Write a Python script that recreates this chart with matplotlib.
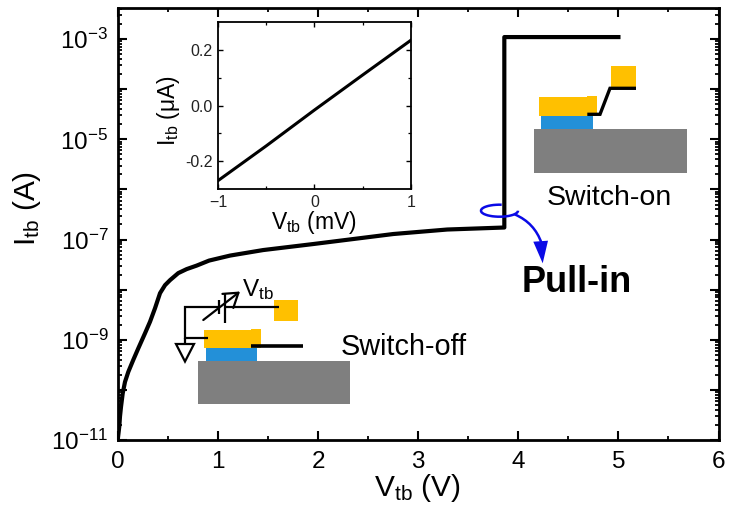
import numpy as np
import matplotlib
matplotlib.use("Agg")
import matplotlib.pyplot as plt
from matplotlib.patches import Rectangle, Polygon, Arc, FancyArrowPatch
from matplotlib.ticker import FixedLocator, NullFormatter

plt.rcParams['font.family'] = ['Liberation Sans', 'DejaVu Sans']
plt.rcParams['mathtext.fontset'] = 'custom'
plt.rcParams['mathtext.rm'] = 'Liberation Sans'
plt.rcParams['mathtext.it'] = 'Liberation Sans'
plt.rcParams['mathtext.bf'] = 'Liberation Sans:bold'
plt.rcParams['mathtext.default'] = 'rm'

# Main curve
v_tb = [0.0, 0.013, 0.02, 0.03, 0.047, 0.07, 0.103, 0.153, 0.203, 0.27, 0.32, 0.37, 0.42, 0.47,
        0.52, 0.602, 0.686, 0.786, 0.91, 1.12, 1.45, 1.95, 2.35, 2.75, 3.29, 3.86, 3.86, 5.0]
log_i_tb = [-10.95, -10.73, -10.53, -10.34, -10.07, -9.84, -9.64, -9.40, -9.17, -8.87, -8.64,
            -8.37, -8.07, -7.91, -7.81, -7.67, -7.59, -7.52, -7.42, -7.32, -7.21, -7.09, -6.99,
            -6.89, -6.80, -6.76, -2.96, -2.96]
# Inset curve
inset_v = [-1.0, -0.5, 0.0, 0.5, 1.0]
inset_i = [-0.27, -0.145, -0.016, 0.11, 0.235]

x_ticks = [0, 1, 2, 3, 4, 5, 6]
y_labelled = [-3, -5, -7, -9, -11]
inset_xticks = [-1, 0, 1]
inset_yticks = [-0.2, 0.0, 0.2]
inset_yticklabels = ['-0.2', '0.0', '0.2']

W, H = 732, 517
fig = plt.figure(figsize=(W / 100, H / 100), dpi=100)

def axes_px(l, t, r, b):
    return fig.add_axes([l / W, 1 - b / H, (r - l) / W, (b - t) / H])

ax = axes_px(118, 7.5, 718.5, 440)
ax.plot(v_tb, 10.0 ** np.array(log_i_tb), color='black', lw=3.0, solid_joinstyle='round', zorder=5)
ax.set_xlim(0, 6)
ax.set_yscale('log')
ax.set_ylim(1e-11, 10 ** -2.37)
ax.set_xticks(x_ticks)
ax.set_xticks(np.arange(0.5, 6, 1), minor=True)
ax.yaxis.set_major_locator(FixedLocator([10.0 ** e for e in range(-11, -2)]))
minor = [m * 10.0 ** e for e in range(-11, -2) for m in range(2, 10)]
ax.yaxis.set_minor_locator(FixedLocator(minor))
ax.yaxis.set_minor_formatter(NullFormatter())
ax.set_yticklabels([('$10^{%d}$' % e if e in y_labelled else '') for e in range(-11, -2)])
for s in ax.spines.values():
    s.set_linewidth(2.0)
ax.tick_params(which='major', direction='in', length=6.5, width=1.5, top=True, right=True,
               labelsize=17.5, pad=7)
ax.tick_params(which='minor', direction='in', length=3.2, width=1.3, top=True, right=True)
ax.tick_params(axis='x', which='major', pad=8)

fig.text(417 / W, 1 - 488 / H, r'$V_{tb}$ (V)', fontsize=21.5, ha='center', va='center')
fig.text(27 / W, 1 - 208 / H, r'$I_{tb}$ (A)', fontsize=21.5, ha='center', va='center', rotation=90)

# Inset
ins = axes_px(218, 22.3, 410.7, 189)
ins.plot(inset_v, inset_i, color='black', lw=2.2)
ins.set_xlim(-1, 1)
ins.set_ylim(-0.3, 0.3)
ins.set_xticks(inset_xticks)
ins.set_xticks([-0.5, 0.5], minor=True)
ins.set_yticks(inset_yticks)
ins.set_yticklabels(inset_yticklabels)
ins.set_yticks([-0.1, 0.1], minor=True)
for s in ins.spines.values():
    s.set_linewidth(1.3)
ins.tick_params(which='major', direction='in', length=3.5, width=1.0, top=True, right=True,
                labelsize=11.5, pad=4, labelcolor='#222222')
ins.tick_params(which='minor', direction='in', length=2, width=0.9, top=True, right=True)
fig.text(314 / W, 1 - 223 / H, r'$V_{tb}$ (mV)', fontsize=16.5, ha='center', va='center')
fig.text(168 / W, 1 - 110 / H, r'$I_{tb}$ ($\mu$A)', fontsize=16.5, ha='center', va='center', rotation=90)

# Overlay in pixel coordinates for the device schematics
ov = fig.add_axes([0, 0, 1, 1], zorder=10)
ov.set_xlim(0, W)
ov.set_ylim(H, 0)
ov.axis('off')
ov.patch.set_alpha(0)

YEL, BLU, GRY, ARW = '#FFC000', '#2390D8', '#7F7F7F', '#0A0AE6'

def rect(x0, y0, x1, y1, c):
    ov.add_patch(Rectangle((x0, y0), x1 - x0, y1 - y0, fc=c, ec='none'))

def wire(xs, ys, lw=1.6):
    ov.plot(xs, ys, color='black', lw=lw, solid_joinstyle='miter', solid_capstyle='butt')

# Switch-off
rect(198, 360.7, 350.3, 404.3, GRY)
rect(205.7, 348.3, 256.7, 360.7, BLU)
rect(204, 330, 250.7, 348.3, YEL)
rect(250.7, 328.7, 260.7, 348.3, YEL)
rect(273.7, 300, 298, 320.7, YEL)
wire([250.7, 302.7], [346.3, 346.3], 2.6)
wire([208.3, 185, 185, 219], [338.3, 338.3, 306.7, 306.7])
wire([185, 185], [338.3, 344])
wire([225, 279.3], [306.7, 306.7])
wire([219, 219], [300, 313.5])
wire([225, 225], [294, 322.5])
ov.add_patch(Polygon([(176, 344), (194, 344), (185, 361.5)], fc='white', ec='black', lw=1.6))
ov.add_patch(FancyArrowPatch((203.3, 320), (240, 291.5), arrowstyle='->,head_length=6,head_width=4',
                             color='black', lw=1.6, shrinkA=0, shrinkB=0, mutation_scale=1.6))
ov.text(241.5, 290, r'$V_{tb}$', fontsize=17.5, ha='left', va='center')
ov.text(341, 347, 'Switch-off', fontsize=20.8, ha='left', va='center')

# Switch-on
rect(534.3, 128.7, 687.3, 173.3, GRY)
rect(541, 116, 593.3, 128.7, BLU)
rect(539.3, 97, 587.3, 116, YEL)
rect(587.3, 96, 597.3, 116, YEL)
rect(610.7, 66, 636, 88.3, YEL)
wire([587.3, 600, 610, 636], [114.3, 114.3, 88.3, 88.3], 2.4)
ov.text(546.7, 198, 'Switch-on', fontsize=20.5, ha='left', va='center')

# Pull-in marker
ov.add_patch(Arc((499.5, 210.7), 37, 12, theta1=0, theta2=290, color=ARW, lw=1.8))
ov.add_patch(FancyArrowPatch((515, 214.5), (541.5, 243), connectionstyle='arc3,rad=-0.22',
                             arrowstyle='-', color=ARW, lw=1.8, shrinkA=0, shrinkB=0))
ov.add_patch(Polygon([(533.3, 241.7), (548, 240.7), (542.7, 263.3)], fc=ARW, ec='none'))
ov.text(576.5, 282, 'Pull-in', fontsize=26, fontweight='bold', ha='center', va='center')

fig.savefig('out.png', dpi=100)
